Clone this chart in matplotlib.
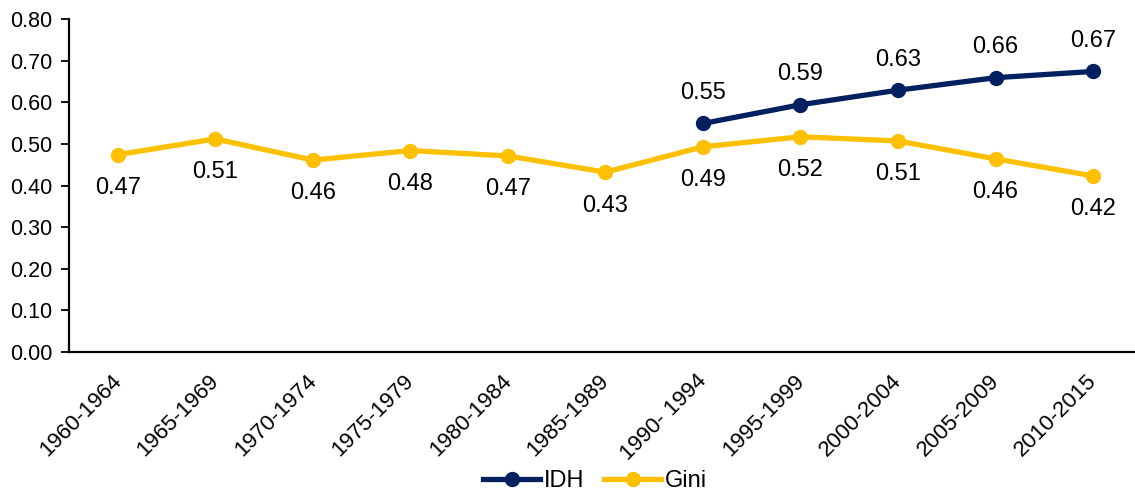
import matplotlib
matplotlib.use("Agg")
import matplotlib.pyplot as plt
import matplotlib.transforms as mtransforms
import numpy as np

periods = ["1960-1964", "1965-1969", "1970-1974", "1975-1979", "1980-1984",
           "1985-1989", "1990- 1994", "1995-1999", "2000-2004", "2005-2009", "2010-2015"]
gini = [0.474, 0.512, 0.461, 0.484, 0.471, 0.432, 0.493, 0.517, 0.507, 0.464, 0.423]
idh_periods = ["1990- 1994", "1995-1999", "2000-2004", "2005-2009", "2010-2015"]
idh = [0.549, 0.594, 0.629, 0.659, 0.674]

plt.rcParams['font.family'] = ['Liberation Sans', 'DejaVu Sans']

fig = plt.figure(figsize=(11.35, 4.93), dpi=100)
ax = fig.add_axes([69/1135, 1-352/493, 1-69/1135, (352-19)/493])

navy = "#002060"
yellow = "#FFC000"

x_all = np.arange(len(periods))
x_idh = [periods.index(p) for p in idh_periods]

ax.plot(x_idh, idh, color=navy, lw=3.8, marker='o', ms=10, label="IDH", zorder=3)
ax.plot(x_all, gini, color=yellow, lw=3.8, marker='o', ms=10, label="Gini", zorder=3)

for xi, v in zip(x_idh, idh):
    ax.annotate(f"{v:.2f}", (xi, v), xytext=(0, 22), textcoords='offset points',
                ha='center', va='center', fontsize=17)
for xi, v in zip(x_all, gini):
    ax.annotate(f"{v:.2f}", (xi, v), xytext=(0, -24), textcoords='offset points',
                ha='center', va='center', fontsize=17)

ax.set_ylim(0, 0.8)
ax.set_yticks(np.arange(0, 0.81, 0.1))
ax.set_yticklabels([f"{t:.2f}" for t in np.arange(0, 0.81, 0.1)], fontsize=15.5)
ax.set_xlim(-0.5, 10.43)
ax.set_xticks(x_all)
ax.set_xticklabels(periods, rotation=45, ha='right', rotation_mode='anchor', fontsize=16)
ax.tick_params(axis='x', length=0, pad=12)
ax.tick_params(axis='y', length=6, width=1.3, pad=6)

shift = mtransforms.ScaledTranslation(-7/100, -2/100, fig.dpi_scale_trans)
for lab in ax.get_xticklabels():
    lab.set_transform(lab.get_transform() + shift)

for s in ['top', 'right']:
    ax.spines[s].set_visible(False)
for s in ['left', 'bottom']:
    ax.spines[s].set_linewidth(1.6)
    ax.spines[s].set_color('black')

leg = fig.legend(loc='center', bbox_to_anchor=(595/1135, 1-481/493), ncol=2, frameon=False,
                 fontsize=17, handlelength=2.4, columnspacing=0.85, handletextpad=0.15)

fig.savefig("out.png", dpi=100)
